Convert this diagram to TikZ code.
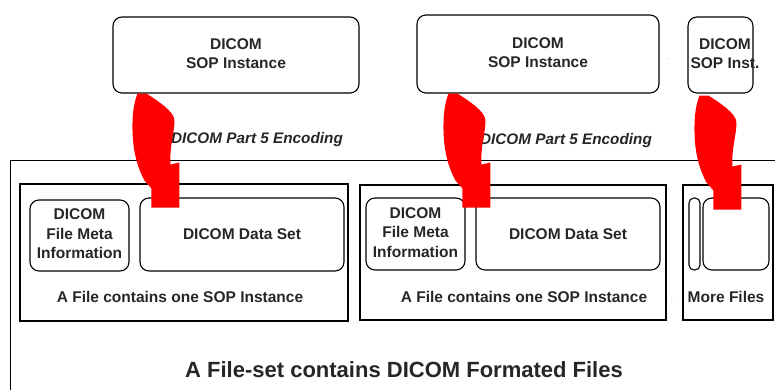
\documentclass[tikz,border=0pt]{standalone}
\usepackage{fontspec}
\setmainfont{Liberation Sans}
\begin{document}
\begin{tikzpicture}[x=1pt, y=-1pt,
    box/.style={draw, rounded corners=9, line width=1.1pt, inner sep=0pt},
    filebox/.style={draw, line width=1.3pt, inner sep=0pt},
    boxtext/.style={font=\fontsize{15.5}{19.5}\selectfont\bfseries, text=black!85},
    encoding/.style={font=\fontsize{15.3}{18}\selectfont\bfseries\itshape, text=black!85},
    encarrow/.pic={
        \fill[red] (0,0) -- (9,0)
            .. controls (20,7) and (37,18) .. (37,27)
            .. controls (37,40) and (32,52) .. (33,71)
            -- (42,69) -- (42,114) -- (14,114) -- (14,95) -- (7,87)
            .. controls (-3,68) and (-5,50) .. (-5,32)
            .. controls (-5,18) and (-3,8) .. (0,0) -- cycle;
    }]

    \useasboundingbox (0,0) rectangle (775,390);
    \clip (0,0) rectangle (775,390);

    \node[box, boxtext, minimum width=246, minimum height=76] (sop1) at (236,55) {
        \begin{tabular}{@{}c@{}}
            DICOM \\
            SOP Instance \\
        \end{tabular}
    };

    \node[box, boxtext, minimum width=242, minimum height=78] (sop2) at (538,54) {
        \begin{tabular}{@{}c@{}}
            DICOM \\
            SOP Instance \\
        \end{tabular}
    };

    \node[box, minimum width=65, minimum height=76] (sop3) at (720.5,55) {};
    \node[boxtext] (sop3 text) at (725,55) {
        \begin{tabular}{@{}c@{}}
            DICOM \\
            SOP Inst. \\
        \end{tabular}
    };

    \node[font=\tiny, text=gray] (dots top) at (669,59) {..};

    \node[encoding] (encoding1) at (257,139.5) {DICOM Part 5 Encoding};
    \node[encoding] (encoding2) at (566,141) {DICOM Part 5 Encoding};

    \node[filebox, anchor=north west, minimum width=800, minimum height=260] (file set) at (10,160) {};

    \node[filebox, minimum width=328, minimum height=137] (file1) at (184,252.5) {};

    \node[box, boxtext, minimum width=99, minimum height=71] (meta1) at (79.5,235.5) {
        \begin{tabular}{@{}c@{}}
            DICOM \\
            File Meta \\
            Information \\
        \end{tabular}
    };

    \node[box, boxtext, minimum width=204, minimum height=73] (data1) at (242,234.5) {DICOM Data Set};

    \node[boxtext] (contains1) at (180,297) {A File contains one SOP Instance};

    \node[filebox, minimum width=306, minimum height=135] (file2) at (513,252.5) {};

    \node[box, boxtext, minimum width=99, minimum height=72] (meta2) at (415.5,234) {
        \begin{tabular}{@{}c@{}}
            DICOM \\
            File Meta \\
            Information \\
        \end{tabular}
    };

    \node[box, boxtext, minimum width=184, minimum height=72] (data2) at (568,234) {DICOM Data Set};

    \node[boxtext] (contains2) at (524,297) {A File contains one SOP Instance};

    \node[font=\tiny, text=gray] (dots mid) at (672,300) {-};

    \node[filebox, minimum width=90, minimum height=135] (more) at (728,252.5) {};
    \node[box, rounded corners=5, minimum width=11, minimum height=72] (more meta) at (694.5,234) {};
    \node[box, minimum width=66, minimum height=72] (more data) at (736,234) {};
    \node[boxtext] (more files) at (726,297) {More Files};

    \path (sop1.south west) ++(25,0) pic {encarrow};
    \path (sop2.south west) ++(32,0) pic {encarrow};
    \path (sop3.south west) ++(12,2) pic {encarrow};

    \node[font=\fontsize{22}{26}\selectfont\bfseries, text=black!85] (title) at (404,370) {A File-set contains DICOM Formated Files};

\end{tikzpicture}
\end{document}
